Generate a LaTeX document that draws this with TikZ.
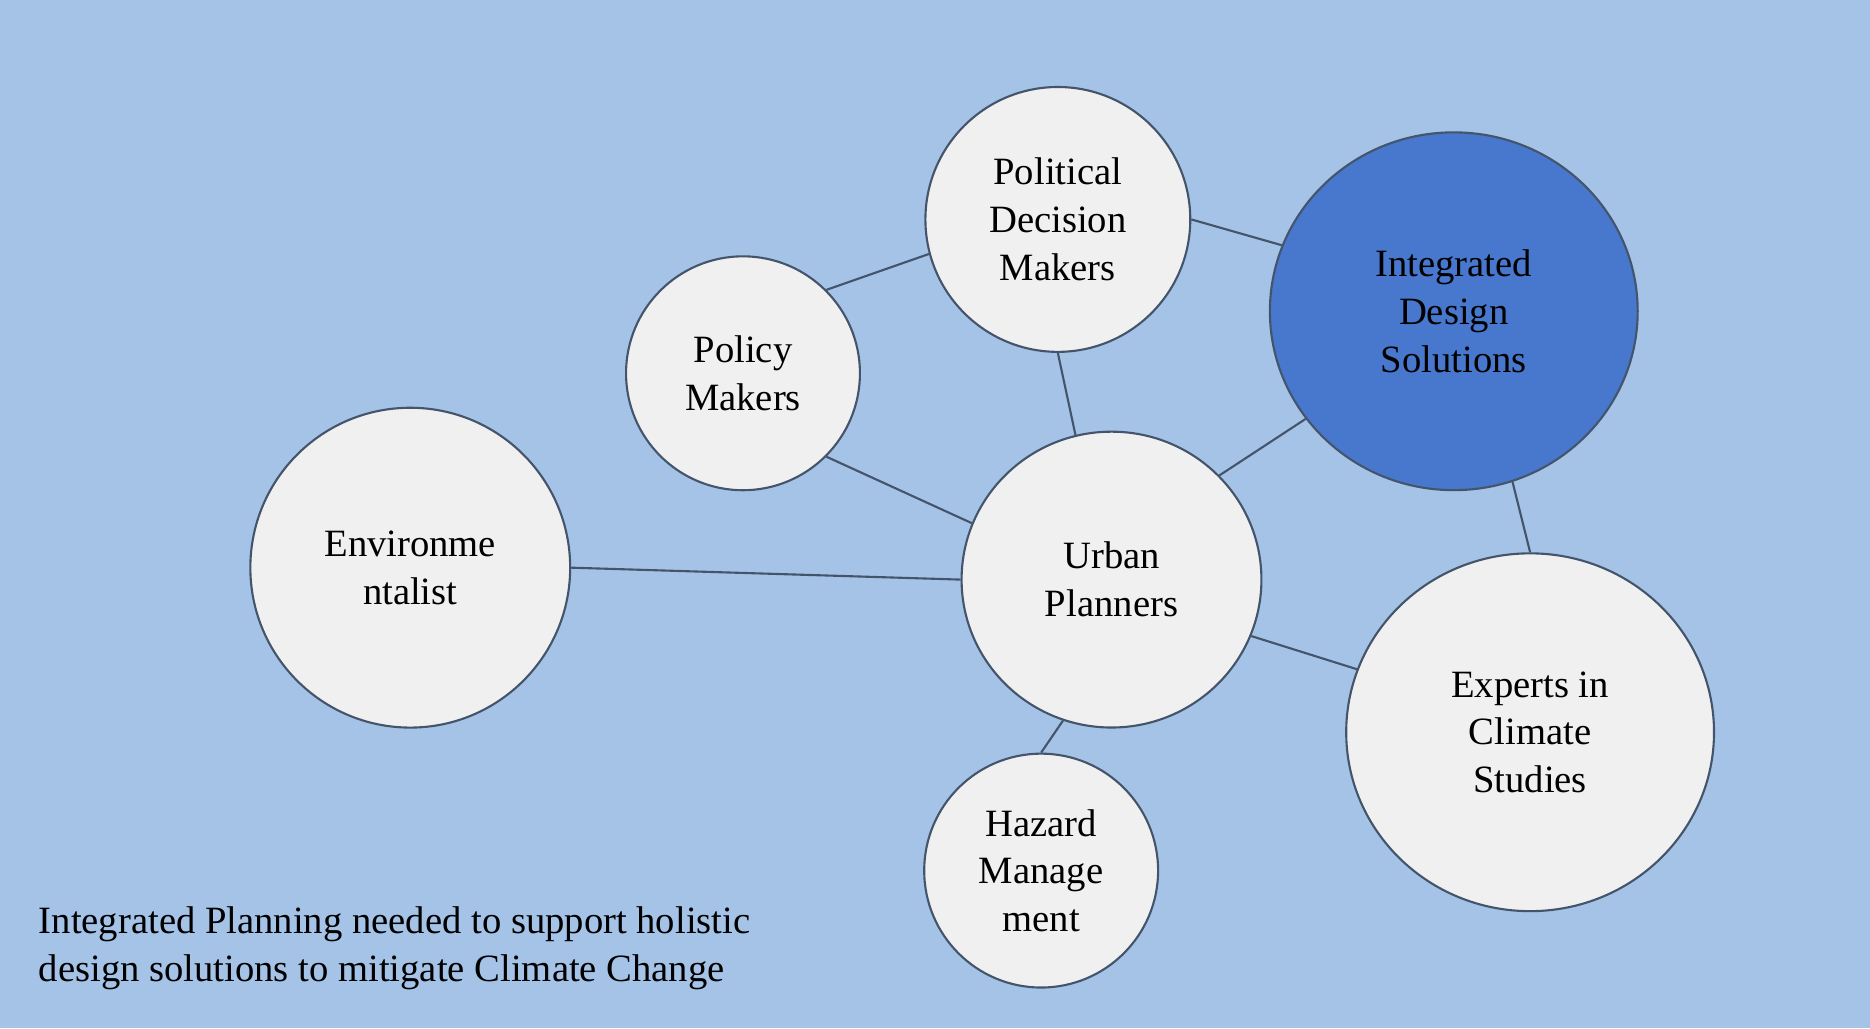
\documentclass[tikz,border=0pt]{standalone}
\usepackage{fontspec}
\setmainfont{Liberation Serif}
\usepackage{tikz}
\usepackage{xcolor}
\usetikzlibrary{shapes.geometric, positioning}
\definecolor{cBack}{RGB}{164,195,230}
\definecolor{cBubble}{RGB}{240,240,240}
\definecolor{cHub}{RGB}{72,119,206}
\definecolor{cEdge}{RGB}{68,84,106}
\tikzset{
    bubble/.style={ellipse, draw=cEdge, line width=0.6pt, fill=cBubble, align=center, text centered, inner sep=0pt},
    hub/.style   ={bubble, fill=cHub},
    link/.style  ={draw=cEdge, line width=0.6pt},
}

\begin{document}
\begin{tikzpicture}[x=0.011926cm, y=-0.011926cm, font=\fontsize{11}{13.6}\selectfont]
        % canvas
        \fill[cBack] (0,0) rectangle (1568,862);
        \useasboundingbox (0,0) rectangle (1568,862);
        % actors
        \node[bubble, minimum width=2.65cm, minimum height=2.65cm] (pdm) at (887,184) {Political\\Decision\\Makers};
        \node[hub, minimum width=3.68cm, minimum height=3.58cm] (ids) at (1219,261) {Integrated\\Design\\Solutions};
        \node[bubble, minimum width=2.34cm, minimum height=2.34cm] (pol) at (623,313) {Policy\\Makers};
        \node[bubble, minimum width=3.2cm, minimum height=3.2cm] (env) at (344,476) {Environme\\ntalist};
        \node[bubble, minimum width=3.0cm, minimum height=2.96cm] (urb) at (932,486) {Urban\\Planners};
        \node[bubble, minimum width=3.68cm, minimum height=3.58cm] (exp) at (1283,614) {Experts in\\Climate\\Studies};
        \node[bubble, minimum width=2.34cm, minimum height=2.34cm] (haz) at (873,730) {Hazard\\Manage\\ment};
        % links
        \draw[link] (pol.45) -- (pdm.195);
        \draw[link] (pdm.0) -- (ids.159);
        \draw[link] (pdm.south) -- (urb.104);
        \draw[link] (pol.-45) -- (urb.158);
        \draw[link] (ids.216) -- (urb.44);
        \draw[link] (env.east) -- (urb.west);
        \draw[link] (ids.289) -- (exp.north);
        \draw[link] (urb.-22) -- (exp.160);
        \draw[link] (urb.251) -- (haz.north);
        % caption
        \node[anchor=north west, inner sep=0pt, align=left] (note) at (32,760) {Integrated Planning needed to support holistic\\design solutions to mitigate Climate Change};
    \end{tikzpicture}
\end{document}
